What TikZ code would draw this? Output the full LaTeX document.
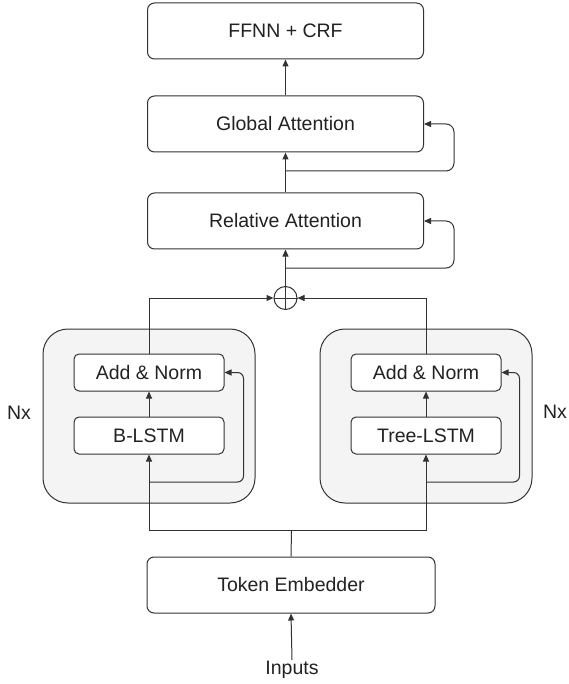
\documentclass[tikz,border=0pt]{standalone}
\usepackage{fontspec}
\setmainfont{Liberation Sans}
\usetikzlibrary{arrows.meta,calc}
\definecolor{linec}{HTML}{333333}
\definecolor{txtc}{HTML}{222222}
\definecolor{blockfill}{HTML}{F4F4F4}
\begin{document}
\begin{tikzpicture}[x=1pt,y=-1pt,
  every node/.style={text=txtc,font=\fontsize{19.5}{23}\selectfont},
  bigbox/.style={draw=linec,line width=1pt,rounded corners=7pt,fill=white,minimum width=276pt,minimum height=56pt,inner sep=0pt},
  smallbox/.style={draw=linec,line width=1pt,rounded corners=5pt,fill=white,minimum width=150pt,minimum height=37pt,inner sep=0pt},
  block/.style={draw=linec,line width=1pt,rounded corners=25pt,fill=blockfill,minimum width=212pt,minimum height=174pt,inner sep=0pt},
  conn/.style={draw=linec,line width=1pt},
  arr/.style={conn,-{Triangle[length=7pt,width=6pt]}}
]
\useasboundingbox (0,0) rectangle (568,684);
% outer blocks
\node[block] (outL) at (149,416) {};
\node[block] (outR) at (426,416) {};
% boxes
\node[bigbox] (ffnn) at (285.5,31) {FFNN + CRF};
\node[bigbox] (glob) at (285.5,124) {Global Attention};
\node[bigbox] (rel) at (285.5,221) {Relative Attention};
\node[draw=linec,line width=1pt,circle,minimum size=23pt,inner sep=0pt] (circ) at (285.5,298) {};
\draw[linec,line width=1pt] (circ.north) -- (circ.south) (circ.west) -- (circ.east);
\node[smallbox] (an1) at (149,372.5) {Add \& Norm};
\node[smallbox] (bl) at (149,435.5) {B-LSTM};
\node[smallbox] (an2) at (426,372.5) {Add \& Norm};
\node[smallbox] (tl) at (426,435.5) {Tree-LSTM};
\node[bigbox,minimum width=288pt] (tok) at (291,585) {Token Embedder};
\node[inner sep=1pt] (inp) at (292,670) {Inputs};
\node (nxl) at (19,413) {Nx};
\node (nxr) at (555,412) {Nx};
% coordinates
\coordinate (gl) at (285.5,171);
\coordinate (rl) at (285.5,268);
\coordinate (lp1) at (149,482);
\coordinate (lp2) at (426,482);
\coordinate (sp) at (291.5,530);
% connectors
\draw[arr] (glob.north) -- (ffnn.south);
\draw[arr] (rel.north) -- (glob.south);
\draw[arr] (circ.north) -- (rel.south);
\draw[arr,rounded corners=8pt] (gl) -| ([xshift=30pt]glob.east) -- (glob.east);
\draw[arr,rounded corners=8pt] (rl) -| ([xshift=30pt]rel.east) -- (rel.east);
\draw[arr] (an1.north) |- (circ.west);
\draw[arr] (an2.north) |- (circ.east);
\draw[arr] (bl.north) -- (an1.south);
\draw[arr] (tl.north) -- (an2.south);
\draw[arr,rounded corners=6pt] (lp1) -| ([xshift=19pt]an1.east) -- (an1.east);
\draw[arr,rounded corners=6pt] (lp2) -| ([xshift=18pt]an2.east) -- (an2.east);
\draw[conn] (tok.north) -- (sp);
\draw[arr] (sp) -| (bl.south);
\draw[arr] (sp) -| (tl.south);
\draw[arr] (inp.north) -- (tok.south);
\end{tikzpicture}
\end{document}
